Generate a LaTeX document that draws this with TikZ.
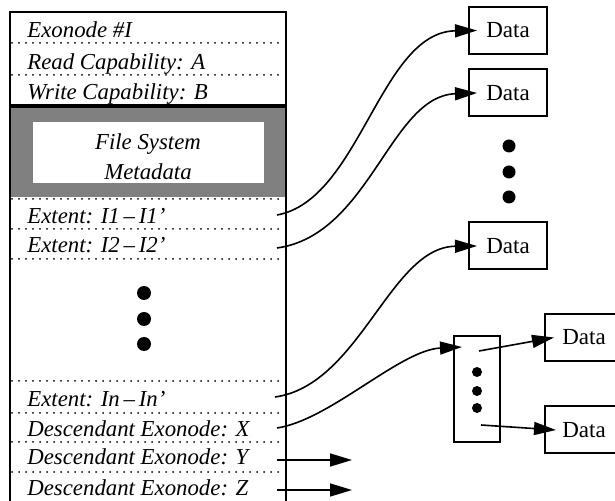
\documentclass[tikz,border=0pt]{standalone}
\usepackage{fontspec}
\setmainfont{Liberation Serif}
\usetikzlibrary{arrows.meta,positioning}
\tikzset{
  field/.style={font=\fontsize{11.4}{13}\selectfont\itshape,anchor=base west,inner sep=0pt},
  datablock/.style={draw,line width=1pt,minimum width=39pt,minimum height=23.5pt,font=\fontsize{11.5}{13}\selectfont,inner sep=0pt},
  sep/.style={line width=1pt,dash pattern=on 0pt off 3.5pt,line cap=round},
  link/.style={-{Triangle[length=11pt,width=6.5pt]},line width=0.8pt},
  blob/.style={circle,fill,inner sep=0pt,minimum size=#1},
  blob/.default=7pt
}
\begin{document}
\begin{tikzpicture}[x=0.5pt,y=-0.5pt]
\useasboundingbox (0,0) rectangle (615,501);

% exonode record
\fill[black!50] (10,106) rectangle (286,197);
\fill[white] (33,122) rectangle (264,183);
\draw[line width=1pt] (10,520) -- (10,12) -- (286,12) -- (286,520);
\draw[line width=1.7pt] (10,106) -- (286,106);
\foreach \y in {43,75,199,229,259,381,413,442,472}
  \draw[sep] (12,\y) -- (285,\y);

\node[field] (exo) at (27,38) {Exonode \#I};
\node[field] (readcap) at (27,70) {Read Capability: A};
\node[field] (writecap) at (27,100) {Write Capability: B};
\node[font=\fontsize{11.4}{15}\selectfont\itshape,align=center,inner sep=0pt] (meta) at (148,157) {File System\\Metadata};
\node[field] (ext1) at (27,224) {Extent: I1\,--\,I1'};
\node[field] (ext2) at (27,253) {Extent: I2\,--\,I2'};
\node[field] (extn) at (27,407) {Extent: In\,--\,In'};
\node[field] (descx) at (27,437) {Descendant Exonode: X};
\node[field] (descy) at (27,465) {Descendant Exonode: Y};
\node[field] (descz) at (27,495) {Descendant Exonode: Z};

\foreach \y/\n in {293/1,319/2,344/3}
  \node[blob] (gap\n) at (144,\y) {};

% data blocks
\node[datablock] (data1) at (508,30.5) {Data};
\node[datablock] (data2) at (508,93) {Data};
\node[datablock] (data3) at (508,246) {Data};
\node[datablock] (data4) at (584,337.5) {Data};
\node[datablock] (data5) at (584,430) {Data};
\foreach \y/\n in {146/1,172/2,197/3}
  \node[blob=6.5pt] (more\n) at (509,\y) {};

% indirect block
\node[draw,line width=1pt,minimum width=23pt,minimum height=53pt] (indirect) at (477,389) {};
\foreach \y/\n in {372/1,391/2,408/3}
  \node[blob=5pt] (ind\n) at (477,\y) {};

\coordinate (p1) at (277,215);
\coordinate (p2) at (277,248);
\coordinate (pn) at (275,397);
\coordinate (px) at (277,428);
\coordinate (py) at (277,460);
\coordinate (pz) at (277,490);
\coordinate (qy) at (352,460);
\coordinate (qz) at (352,490);
\coordinate (i1) at (479,351);
\coordinate (i2) at (481,425);

\draw[link] (p1) .. controls (360,200) and (380,32) .. ([xshift=4.5pt]data1.west);
\draw[link] (p2) .. controls (370,235) and (390,96) .. ([xshift=4.5pt]data2.west);
\draw[link] (pn) .. controls (360,385) and (390,247) .. ([xshift=4.5pt]data3.west);
\draw[link] (px) .. controls (330,420) and (400,350) .. ([xshift=4.5pt,yshift=21pt]indirect.west);
\draw[link] (i1) -- ([xshift=5pt]data4.west);
\draw[link] (i2) -- ([xshift=6pt]data5.west);
\draw[link] (py) -- (qy);
\draw[link] (pz) -- (qz);
\end{tikzpicture}
\end{document}
